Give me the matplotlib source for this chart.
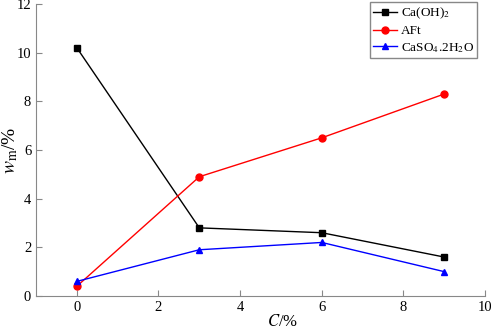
import matplotlib.pyplot as plt

# C/% content values
c_pct = [0, 3, 6, 9]
caoh2 = [10.2, 2.8, 2.6, 1.6]
aft = [0.4, 4.9, 6.5, 8.3]
caso4 = [0.6, 1.9, 2.2, 1.0]

plt.rcParams['font.family'] = ['Liberation Serif', 'DejaVu Serif']
plt.rcParams['mathtext.fontset'] = 'stix'

fig = plt.figure(figsize=(4.91, 3.29), dpi=100)
ax = fig.add_axes([0.0733, 0.1003, 0.9147, 0.8877])

ax.plot(c_pct, caoh2, color='black', marker='s', markersize=5, lw=1, label=r'Ca(OH)$_2$')
ax.plot(c_pct, aft, color='red', marker='o', markersize=5, lw=1, label='AFt')
ax.plot(c_pct, caso4, color='blue', marker='^', markersize=5, lw=1,
        label=r'CaSO$_4$.2H$_2$O')

ax.set_xlim(-1, 10)
ax.set_ylim(0, 12)
ax.set_xticks([0, 2, 4, 6, 8, 10])
ax.set_yticks([0, 2, 4, 6, 8, 10, 12])

for s in ['top', 'right']:
    ax.spines[s].set_visible(False)
for s in ['left', 'bottom']:
    ax.spines[s].set_color('#888888')
ax.tick_params(direction='in', color='#888888', labelsize=10.5, length=4)

ax.set_xlabel(r'$C$/%', fontsize=12, va='center')
ax.xaxis.set_label_coords(0.548, -0.089)
ax.set_ylabel(r'$w_{\rm m}$/%', fontsize=14, va='center')
ax.yaxis.set_label_coords(-0.058, 0.5)

leg = ax.legend(loc='upper right', bbox_to_anchor=(0.982, 1.006), borderaxespad=0,
                fontsize=9.5, fancybox=False, framealpha=1, edgecolor='#888888',
                handlelength=1.8, handletextpad=0.3, labelspacing=0.3,
                borderpad=0.25)
leg.get_frame().set_linewidth(1)

fig.savefig('out.png', dpi=100)
